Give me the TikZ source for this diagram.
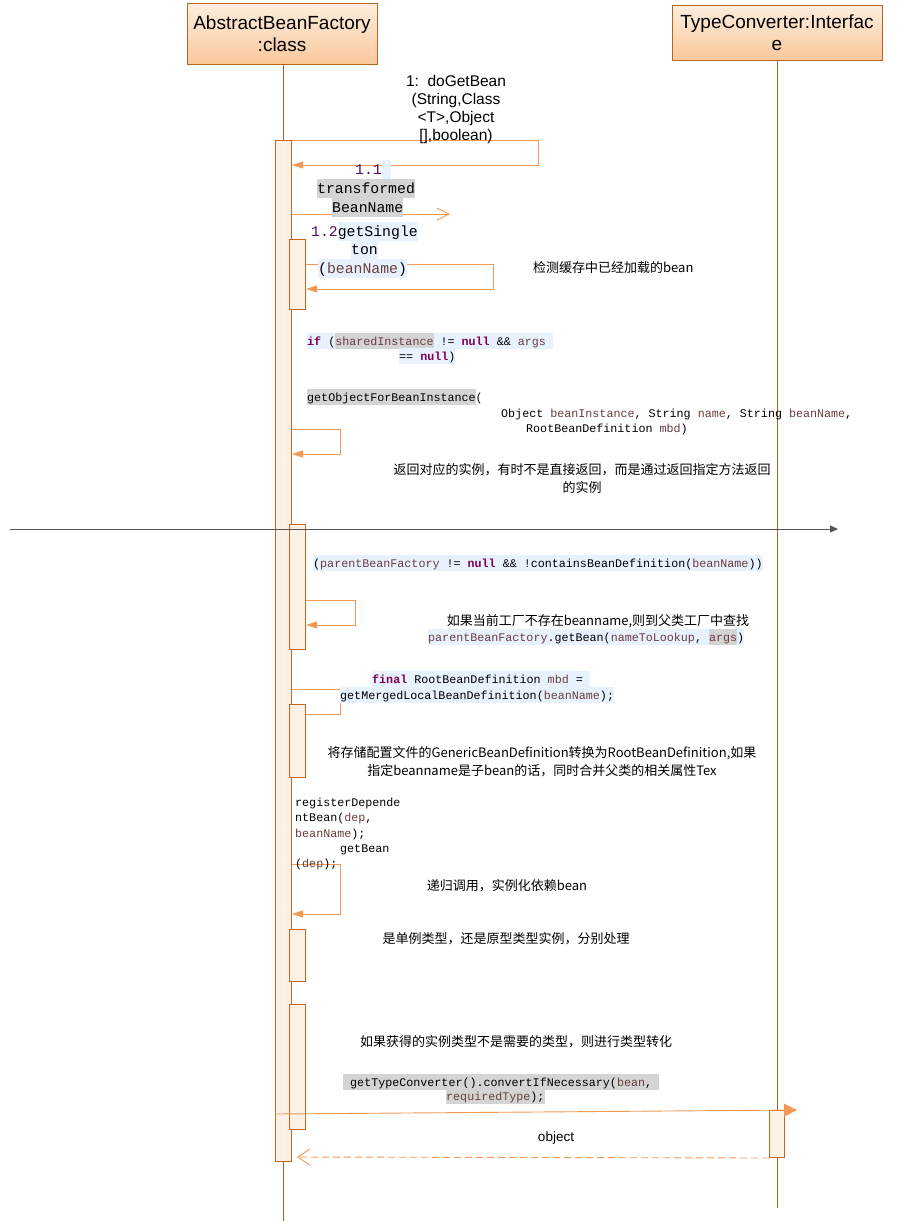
\documentclass[tikz,border=0pt]{standalone}
\usepackage{fontspec}
\setmainfont{Liberation Sans}
\setmonofont{Liberation Mono}
\newfontfamily\cjk{Noto Sans CJK SC}
\usetikzlibrary{arrows.meta}
\definecolor{hdrborder}{HTML}{B5651D}
\definecolor{hdrtop}{HTML}{FDEEDF}
\definecolor{hdrbot}{HTML}{FAC89C}
\definecolor{lifec}{HTML}{B0601C}
\definecolor{actborder}{HTML}{C8661E}
\definecolor{actfill}{HTML}{FDF1E5}
\definecolor{msgc}{HTML}{F29A55}
\definecolor{kwc}{HTML}{7F0055}
\definecolor{varc}{HTML}{6A3E3E}
\definecolor{numc}{HTML}{4B0E6E}
\definecolor{codebg}{HTML}{E8F2FE}
\definecolor{hlgray}{HTML}{D4D4D4}
\definecolor{darkc}{HTML}{555555}
\newcommand\cstrut{\rule[-4pt]{0pt}{16pt}}
\newcommand\bstrut{\rule[-5pt]{0pt}{19pt}}
\newcommand\kw[1]{\textcolor{kwc}{\bfseries #1}}
\newcommand\vr[1]{\textcolor{varc}{#1}}
\newcommand\hg[1]{{\setlength\fboxsep{0pt}\colorbox{hlgray}{\cstrut #1}}}
\newcommand\hb[1]{{\setlength\fboxsep{0pt}\colorbox{codebg}{\cstrut #1}}}
\newcommand\Hg[1]{{\setlength\fboxsep{0pt}\colorbox{hlgray}{\bstrut #1}}}
\newcommand\Hb[1]{{\setlength\fboxsep{0pt}\colorbox{codebg}{\bstrut #1}}}
\begin{document}
\begin{tikzpicture}[x=1pt,y=-1pt,
  head/.style={draw=hdrborder, line width=0.9pt, top color=hdrtop, bottom color=hdrbot, align=center, font=\fontsize{19}{22}\selectfont, inner sep=0pt},
  life/.style={draw=lifec, line width=0.9pt},
  act/.style={draw=actborder, fill=actfill, line width=1pt, minimum width=16pt, anchor=north west, inner sep=0pt},
  msg/.style={draw=msgc, line width=0.9pt},
  selfarrow/.style={-{Triangle[length=11pt,width=7pt]}},
  code/.style={font=\ttfamily\fontsize{11.7}{15.5}\selectfont, inner sep=0pt, anchor=base west},
  bigcode/.style={font=\ttfamily\fontsize{14.8}{18.5}\selectfont, inner sep=0pt, anchor=base west},
  note/.style={font=\cjk\fontsize{13}{18}\selectfont, inner sep=0pt, align=center},
  lbl/.style={font=\fontsize{15.5}{18.3}\selectfont, inner sep=0pt, align=center}
]
\fill[white] (0,0) rectangle (920,1221);
\useasboundingbox (0,0) rectangle (920,1221);

% headers
\node[head, minimum width=190pt, minimum height=61pt] (h1) at (282,33.5) {AbstractBeanFactory\\:class};
\node[head, minimum width=210pt, minimum height=55pt] (h2) at (777,32.5) {TypeConverter:Interfac\\e};

% lifelines
\coordinate (e1) at (283,1221);
\coordinate (e2) at (777,1208);
\draw[life] (h1.south -| e1) -- (e1);
\draw[life] (h2.south) -- (e2);

% activations
\node[act, minimum height=1021pt] (a1) at (275,140) {};
\node[act, minimum height=70pt] (a2) at (289,239) {};
\node[act, minimum height=125pt] (a3) at (289,524) {};
\node[act, minimum height=73pt] (a4) at (289,704) {};
\node[act, minimum height=52pt] (a5) at (289,929) {};
\node[act, minimum height=125pt] (a6) at (289,1004) {};
\node[act, minimum width=15pt, minimum height=47pt] (a7) at (769,1110) {};

% messages
\draw[msg, selfarrow] (a1.north east) -- (538,140) -- (538,165) -- (a1.east |- 0,165);
\draw[msg, -{Straight Barb[length=12pt,width=12pt]}] (a1.east |- 0,214) -- (450,214);
\draw[msg, selfarrow] (a2.east |- 0,264) -- (493,264) -- (493,289) -- (a2.east |- 0,289);
\draw[msg, selfarrow] (a1.east |- 0,429) -- (340,429) -- (340,454) -- (a1.east |- 0,454);
\draw[msg, selfarrow] (a3.east |- 0,600) -- (355,600) -- (355,625) -- (a3.east |- 0,625);
\draw[msg] (a1.east |- 0,689) -- (340,689) -- (340,714) -- (a4.east |- 0,714);
\draw[msg, selfarrow] (a1.east |- 0,864) -- (340,864) -- (340,914) -- (a1.east |- 0,914);
\coordinate (tip) at (797,1110);
\draw[msg, -{Triangle[length=13pt,width=13pt]}] (a1.west |- 0,1114) -- (tip);
\coordinate (ret) at (297,1157);
\draw[msg, dash pattern=on 7pt off 4pt, -{Straight Barb[length=12pt,width=16pt]}] (a7.south west) -- (ret);

% dark horizontal line
\coordinate (hl0) at (10,529);
\coordinate (hl1) at (838,529);
\draw[darkc, line width=1pt, -{Triangle[length=8pt,width=7pt]}] (hl0) -- (hl1);

% message labels
\node[lbl] (l1) at (456,109.5) {1:\ \ doGetBean\\(String,Class\\<T>,Object\\{}[],boolean)};
\node[bigcode] (l11a) at (355,174) {\textcolor{numc}{1.1}\Hb{\ }};
\node[bigcode] (l11b) at (317,193) {\Hg{transformed}};
\node[bigcode] (l11c) at (332,212) {\Hg{BeanName}};
\node[bigcode] (l12a) at (311,236) {\bstrut\textcolor{numc}{1.2}\Hb{getSingle}};
\node[bigcode] (l12b) at (351,254) {\Hb{ton}};
\node[bigcode] (l12c) at (318,273) {\Hb{(\vr{beanName})}};
\node[note, anchor=west] (n1) at (533,268) {检测缓存中已经加载的bean};

% code fragments
\node[code] (c1) at (307,345) {\hb{\kw{if} (\hg{\vr{sharedInstance}}\ != \kw{null} \&\& \vr{args}\ }};
\node[code] (c2) at (399,360) {\hb{== \kw{null})}};
\node[code] (c3) at (307,401) {\hg{getObjectForBeanInstance}(};
\node[code] (c4) at (501,417) {Object \vr{beanInstance}, String \vr{name}, String \vr{beanName},};
\node[code] (c5) at (526,432) {RootBeanDefinition \vr{mbd})};
\node[note] (n2) at (582,479) {返回对应的实例，有时不是直接返回，而是通过返回指定方法返回\\的实例};

\node[code] (c6) at (313,567) {\hb{(\vr{parentBeanFactory} != \kw{null} \&\& !containsBeanDefinition(\vr{beanName}))}};
\node[note] (n3) at (598,621) {如果当前工厂不存在beanname,则到父类工厂中查找};
\node[code] (c7) at (428,641) {\hb{\vr{parentBeanFactory}.getBean(\vr{nameToLookup}, \hg{\vr{args}})}};
\node[code] (c8) at (372,683) {\hb{\kw{final} RootBeanDefinition \vr{mbd} =\ }};
\node[code] (c9) at (340,699) {\hb{getMergedLocalBeanDefinition(\vr{beanName});}};
\node[note] (n4) at (542,762) {将存储配置文件的GenericBeanDefinition转换为RootBeanDefinition,如果\\指定beanname是子bean的话，同时合并父类的相关属性Tex};

\node[code] (c10) at (295,806) {registerDepende};
\node[code] (c11) at (295,821) {ntBean(\vr{dep},};
\node[code] (c12) at (295,837) {\vr{beanName});};
\node[code] (c13) at (340,852) {getBean};
\node[code] (c14) at (295,867) {(\vr{dep});};
\node[note] (n5) at (507,886) {递归调用，实例化依赖bean};
\node[note] (n6) at (506,939) {是单例类型，还是原型类型实例，分别处理};
\node[note] (n7) at (516,1042) {如果获得的实例类型不是需要的类型，则进行类型转化};
\node[code] (c15) at (343,1086) {\hg{\ getTypeConverter().convertIfNecessary(\vr{bean},\ }};
\node[code] (c16) at (446,1100) {\hg{\vr{requiredType});}};
\node[font=\fontsize{13.5}{16}\selectfont, inner sep=0pt] (o1) at (556,1138) {object};
\end{tikzpicture}
\end{document}
